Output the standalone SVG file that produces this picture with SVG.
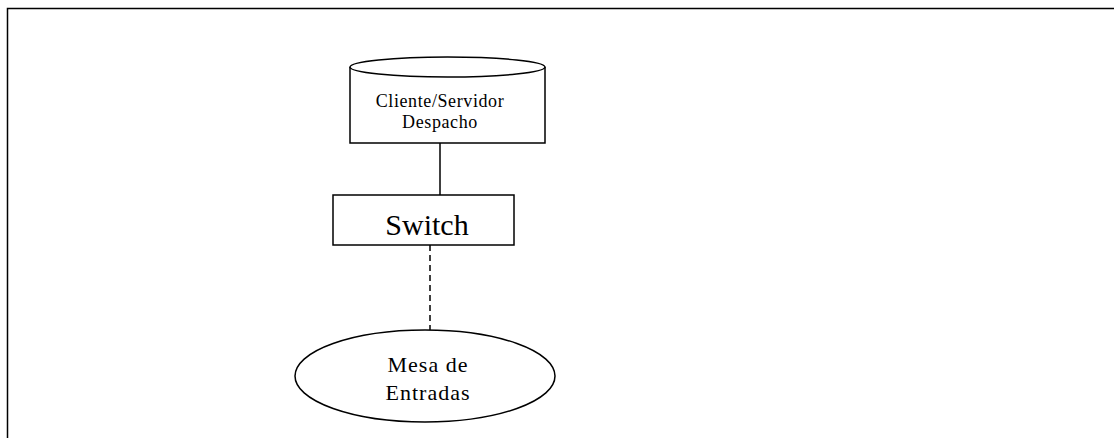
<svg xmlns="http://www.w3.org/2000/svg" width="1114" height="438" viewBox="0 0 1114 438">
<style>
.s{fill:#fff;stroke:#000;stroke-width:1.5}
.t{font-family:"Liberation Serif",serif;fill:#000;text-anchor:middle}
.c{stroke:#000;stroke-width:1.5;fill:none}
</style>
<rect width="1114" height="438" fill="#fff"/>
<path d="M7.5 438 V8.5 H1114" class="c" stroke-width="2"/>
<g id="connectors">
<line x1="440" y1="143" x2="440" y2="195" class="c"/>
<line x1="430" y1="245" x2="430" y2="330" class="c" stroke-dasharray="6,4"/>
</g>
<g id="server">
<path d="M350 67 V143 H545 V67" class="s"/>
<ellipse cx="447.5" cy="67" rx="97.5" ry="10" class="s"/>
<text x="440" y="107" class="t" font-size="18" letter-spacing="0.6">Cliente/Servidor</text>
<text x="440" y="128" class="t" font-size="18" letter-spacing="0.6">Despacho</text>
</g>
<g id="switch">
<rect x="333" y="195" width="181" height="50" class="s"/>
<text x="427" y="235" class="t" font-size="30">Switch</text>
</g>
<g id="mesa">
<ellipse cx="425" cy="376" rx="130" ry="46" class="s"/>
<text x="428" y="372" class="t" font-size="22" letter-spacing="1">Mesa de</text>
<text x="428" y="400" class="t" font-size="22" letter-spacing="1">Entradas</text>
</g>
</svg>
